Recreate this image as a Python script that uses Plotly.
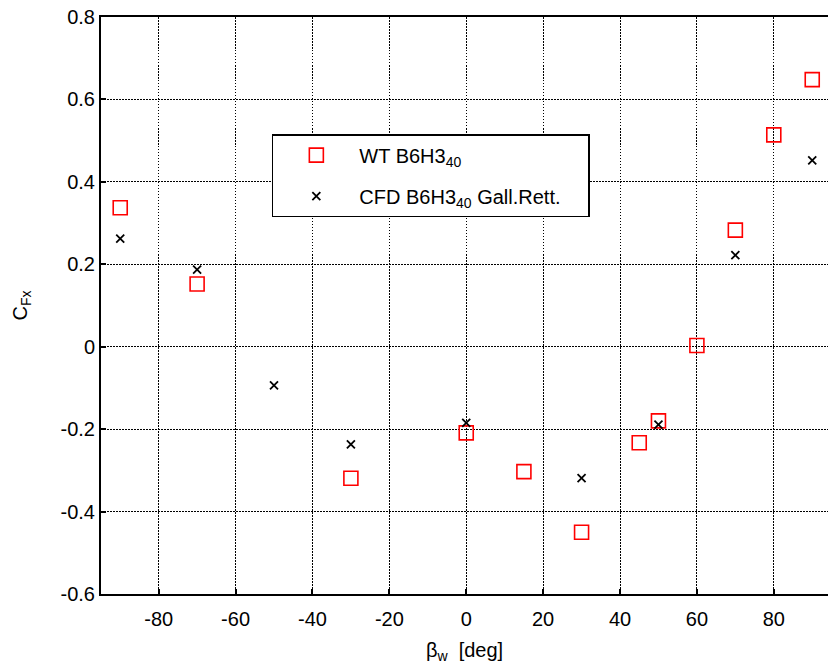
import plotly.graph_objects as go

# Wind tunnel measurements (WT) of the longitudinal force coefficient
wt_beta = [-90, -70, -30, 0, 15, 30, 45, 50, 60, 70, 80, 90]
wt_cfx = [0.337, 0.152, -0.319, -0.209, -0.303, -0.450, -0.233, -0.180, 0.003, 0.283, 0.514, 0.648]

# CFD results
cfd_beta = [-90, -70, -50, -30, 0, 30, 50, 70, 90]
cfd_cfx = [0.262, 0.187, -0.094, -0.237, -0.185, -0.319, -0.189, 0.222, 0.452]

x_ticks = [-80, -60, -40, -20, 0, 20, 40, 60, 80]
y_ticks = [-0.6, -0.4, -0.2, 0, 0.2, 0.4, 0.6, 0.8]

FONT = "Liberation Sans, Arial, Helvetica, sans-serif"
SUB40 = "<sub>40</sub>"
PAD = "\u00a0" * 4  # widen the legend box a little on the right

fig = go.Figure()
fig.add_trace(go.Scatter(
    x=wt_beta, y=wt_cfx, mode="markers",
    name="WT B6H3" + SUB40,
    legendgroup="wt",
    marker=dict(symbol="square-open", size=14, color="#ff0000",
                line=dict(width=1.6, color="#ff0000")),
))
fig.add_trace(go.Scatter(
    x=cfd_beta, y=cfd_cfx, mode="markers",
    name="CFD B6H3" + SUB40 + " Gall.Rett." + PAD,
    legendgroup="cfd",
    marker=dict(symbol="x-thin", size=8, color="black",
                line=dict(width=1.8, color="black")),
))

axis_common = dict(
    showgrid=True, gridcolor="black", gridwidth=1.2, griddash="1.5px,1.5px",
    zeroline=False, showline=True, linecolor="black", linewidth=2,
    ticks="inside", ticklen=5, tickcolor="black", tickwidth=1.5,
    tickfont=dict(family=FONT, size=20, color="black"),
)

fig.update_xaxes(
    range=[-95, 94.1], tickvals=x_ticks, ticktext=[str(v) for v in x_ticks],
    mirror=True, ticklabelstandoff=6,
    title=dict(text="β<sub>w</sub>  [deg]", font=dict(family=FONT, size=20, color="black"),
               standoff=14),
    **axis_common,
)
fig.update_yaxes(
    range=[-0.6, 0.8], tickvals=y_ticks,
    ticktext=["-0.6", "-0.4", "-0.2", "0", "0.2", "0.4", "0.6", "0.8"],
    title=dict(text="C<sub>Fx</sub>", font=dict(family=FONT, size=20, color="black"),
               standoff=28),
    **axis_common,
)

fig.update_layout(
    width=828, height=664,
    margin=dict(l=101, r=0, t=17, b=70),
    plot_bgcolor="white", paper_bgcolor="white",
    font=dict(family=FONT, size=20, color="black"),
    showlegend=True,
    legend=dict(
        x=0.235, y=0.797, xanchor="left", yanchor="top",
        bgcolor="white", bordercolor="black", borderwidth=1.5,
        font=dict(family=FONT, size=20, color="black"),
        itemwidth=76,
        tracegroupgap=12,
    ),
)

fig.write_html("out.html")
